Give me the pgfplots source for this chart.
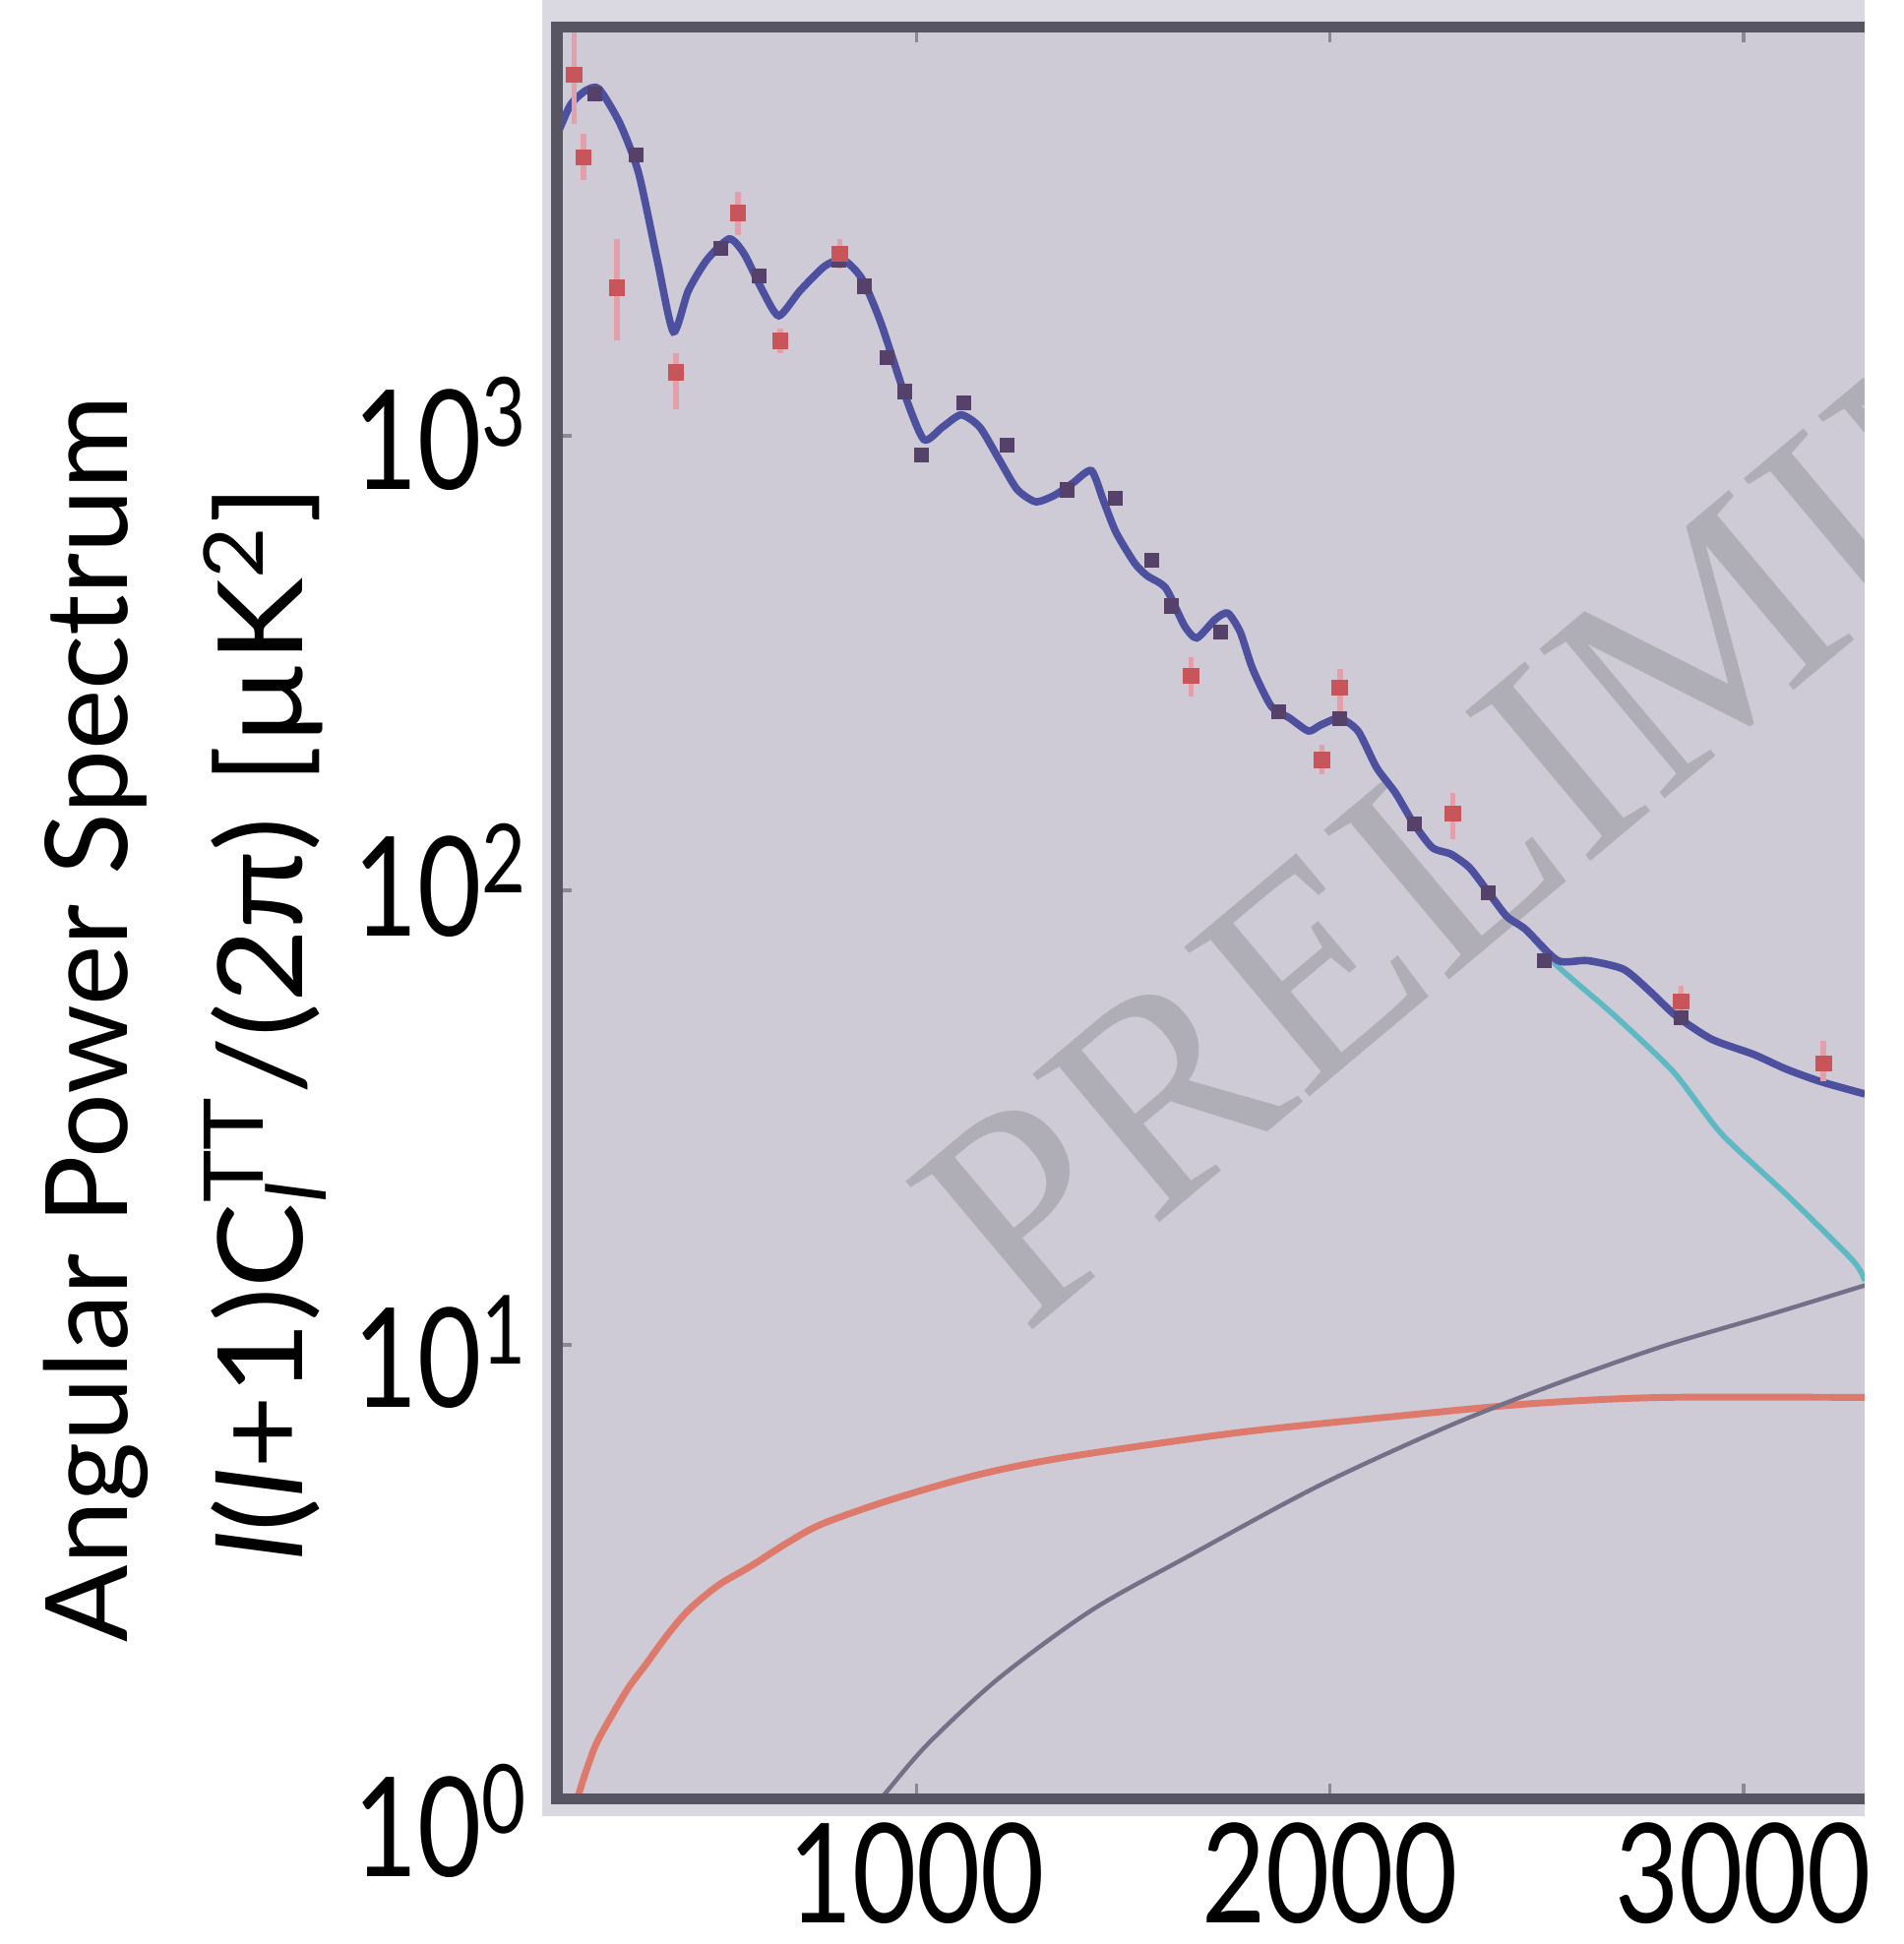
\documentclass[border=0pt]{standalone}
\usepackage{fontspec}
\setmainfont{Lato}
\newfontfamily\ticksfont[FakeStretch=0.8]{Lato}
\newfontfamily\labfont[FakeStretch=1.08]{Lato}
\newfontfamily\wmfont{Liberation Serif}
\usepackage{pgfplots}
\pgfplotsset{compat=1.18}

\definecolor{bgcol}{RGB}{206,203,215}
\definecolor{halocol}{RGB}{218,216,225}
\definecolor{framecol}{RGB}{88,85,98}
\definecolor{totcol}{RGB}{76,80,158}
\definecolor{cmbcol}{RGB}{95,185,195}
\definecolor{szcol}{RGB}{222,122,108}
\definecolor{pscol}{RGB}{115,112,135}
\definecolor{darkpts}{RGB}{85,65,105}
\definecolor{redpts}{RGB}{200,85,90}
\definecolor{errcol}{RGB}{228,160,170}
\definecolor{wmcol}{RGB}{175,173,181}

\newcommand\tsup[1]{\raisebox{7pt}{\fontsize{15.4pt}{16pt}\selectfont #1}}

\begin{document}
\begin{tikzpicture}
% light margin of the pasted plot
\fill[halocol] (-2.4pt,-2.8pt) rectangle (211pt,290.2pt);

\begin{axis}[
    name=ax, at={(0,0)}, anchor=south west,
    scale only axis, width=211pt, height=285.8pt,
    xmin=130, xmax=3294,
    ymode=log, ymin=1, ymax=7925,
    axis background/.style={fill=bgcol},
    axis line style={draw=none},
    xtick={1000,2000,3000}, xticklabels={1000,2000,3000},
    ytick={1,10,100,1000},
    yticklabels={\raisebox{-5.2pt}{10\tsup{0}},\raisebox{-2.7pt}{10\tsup{1}},10\tsup{2},\raisebox{-1.3pt}{10\tsup{3}}},
    tick align=inside, ytick pos=left, xtick pos=both,
    major tick length=2.4pt, minor tick length=0pt,
    tick style={draw=framecol!70, line width=0.6pt},
    xticklabel style={font=\ticksfont\fontsize{22.3pt}{24pt}\selectfont, anchor=base, yshift=-20pt, inner sep=0pt},
    yticklabel style={font=\ticksfont\fontsize{22.3pt}{24pt}\selectfont, anchor=base west, xshift=-33pt, yshift=-7.4pt, inner sep=0pt},
]
% watermark
\node[wmcol, font=\wmfont\fontsize{48pt}{50pt}\selectfont, rotate=40, anchor=base west, inner sep=0pt]
    at (axis cs:1260,10.4) {PRELIMINARY};

% lensed CMB only
\addplot[cmbcol, line width=0.9pt, smooth, tension=0.4] table {
x y
130 4570
163 5345
200 5750
232 5800
283 4864
328 3785
373 2438
412 1694
448 2084
493 2438
547 2712
583 2516
628 2084
667 1837
718 2084
778 2362
823 2438
868 2218
913 1782
973 1222
1018 981
1063 1045
1108 1112
1153 1045
1198 893
1243 763
1288 716
1333 739
1378 787
1423 838
1453 716
1483 612
1528 524
1558 492
1603 462
1648 382
1678 359
1723 395
1753 407
1783 370
1813 307
1858 254
1903 239
1948 224
1978 231
2023 239
2068 224
2113 186
2158 164
2203 140
2248 124
2293 120
2338 112
2383 99
2428 87.5
2473 82
2551 68
2686 53.2
2830 39.9
2947 29.1
3106 21.3
3265 15.3
3294 13.8
};

% total
\addplot[totcol, line width=1.2pt, smooth, tension=0.4] table {
x y
130 4570
163 5345
200 5750
232 5800
283 4864
328 3785
373 2438
412 1694
448 2084
493 2438
547 2712
583 2516
628 2084
667 1837
718 2084
778 2362
823 2438
868 2218
913 1782
973 1222
1018 981
1063 1045
1108 1112
1153 1045
1198 893
1243 763
1288 716
1333 739
1378 787
1423 838
1453 716
1483 612
1528 524
1558 492
1603 462
1648 382
1678 359
1723 395
1753 407
1783 370
1813 307
1858 254
1903 239
1948 224
1978 231
2023 239
2068 224
2113 186
2158 164
2203 140
2248 124
2293 120
2338 112
2383 99
2428 87.5
2473 82
2551 70
2623 70
2710 67
2773 60
2836 53
2923 47
3025 43.5
3103 40.4
3187 37.9
3294 35.6
};

% SZ-like term
\addplot[szcol, line width=1.1pt, smooth] table {
x y
172 0.9
184 1.03
222 1.30
262 1.52
304 1.76
346 1.98
395 2.28
448 2.60
520 2.95
601 3.26
685 3.65
772 4.03
943 4.57
1153 5.18
1366 5.66
1783 6.41
2164 6.96
2485 7.41
2803 7.65
3294 7.65
};

% point sources
\addplot[pscol, line width=0.7pt, smooth] table {
x y
900 0.97
925 1.03
1027 1.32
1198 1.84
1423 2.60
1657 3.42
1975 4.90
2293 6.65
2548 8.20
2803 9.90
3058 11.6
3294 13.5
};

% band powers on the curve
\addplot[only marks, mark=square*, mark size=1.0pt, color=darkpts] table {
x y
223 5649
322 4150
527 2588
620 2243
812 2432
875 2133
929 1483
971 1251
1013 908
1115 1181
1220 955
1364 760
1481 728
1568 532
1616 422
1736 370
1877 247
2024 238
2204 139.6
2383 98.8
2518 70
2849 52.4
};

% band powers with error bars
\addplot[only marks, mark=square*, mark size=1.1pt, color=redpts,
    error bars/.cd, y dir=both, y explicit, error mark=none,
    error bar style={color=errcol, line width=0.9pt}]
    table[x=l, y=v, y error plus=ep, y error minus=em] {
l v ep em
172 6237 1540 1380
194 4100 517 444
275 2118 588 500
419 1380 138 235
569 3090 346 329
671 1618 105 99
815 2512 196 182
1664 296.6 29.4 29.6
1981 193.5 15 14
2024 278.6 27.4 33.6
2297 147.6 16 18
2849 56.8 4.8 4.4
3194 41.5 5.0 3.5
};
\end{axis}

% frame: left, top and bottom only (the plot is cut on the right)
\draw[framecol, line width=1.8pt] (ax.south east) -- (ax.south west) -- (ax.north west) -- (ax.north east);
\fill[white] (211pt,0pt) rectangle (220pt,292pt);

% y label
\node[rotate=90, anchor=base, inner sep=0pt, font=\fontsize{18.4pt}{20pt}\selectfont]
    at (-69.2pt,125.8pt) {Angular Power Spectrum};
\node[rotate=90, anchor=base, inner sep=0pt, font=\labfont\fontsize{19pt}{20pt}\selectfont]
    at (-41pt,125.2pt) {\textit{l}(\textit{l}+1)C\rlap{\textsubscript{\textit{l}}}\textsuperscript{TT}/(2π) [µK\textsuperscript{2}]};

\pgfresetboundingbox
\useasboundingbox (-89.8pt,-23.4pt) rectangle (217.2pt,290.2pt);
\end{tikzpicture}
\end{document}
